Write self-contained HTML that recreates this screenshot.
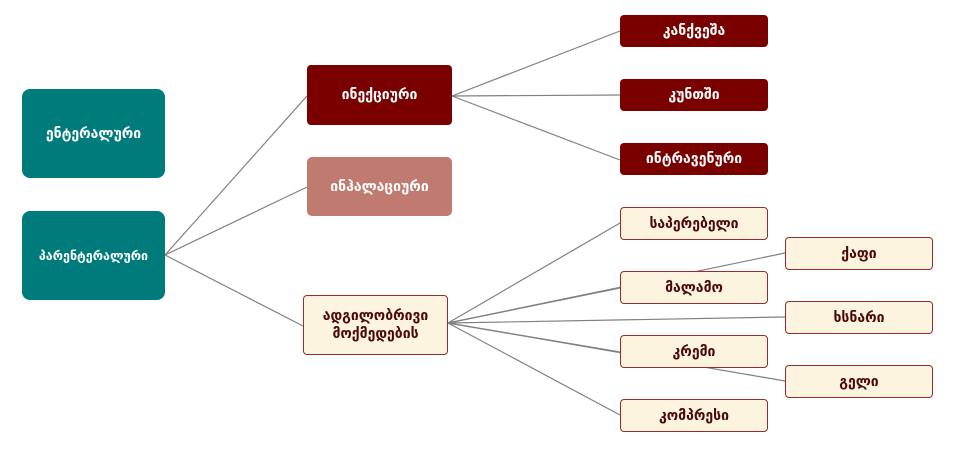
<!DOCTYPE html>
<html><head><meta charset="utf-8"><style>
body{margin:0;width:960px;height:451px;background:#fff;position:relative;overflow:hidden;font-family:"DejaVu Sans","Liberation Sans",sans-serif;}
.b{position:absolute;box-sizing:border-box;display:flex;align-items:center;justify-content:center;text-align:center;font-size:14px;line-height:18px;font-weight:bold;}
.t{background:#007b7b;color:#fff;border-radius:8px;}
.r{background:#7a0000;color:#fff;border-radius:4px;}
.p{background:#c07a70;color:#fff;border-radius:5px;}
.c{background:#fdf4e0;color:#4a0808;border:1.5px solid #9b2a2a;border-radius:4px;}
svg{position:absolute;left:0;top:0}
</style></head><body>
<svg width="960" height="451"><g stroke="#808080" stroke-width="1.2" fill="none">
<line x1="165" y1="255" x2="307" y2="96"/><line x1="165" y1="255" x2="307" y2="187"/><line x1="165" y1="255" x2="303" y2="326"/>
<line x1="452" y1="96" x2="620" y2="31"/><line x1="452" y1="96" x2="620" y2="95"/><line x1="452" y1="96" x2="620" y2="160"/>
<line x1="448" y1="323" x2="620" y2="223"/><line x1="448" y1="323" x2="620" y2="288"/><line x1="448" y1="323" x2="785" y2="253"/>
<line x1="448" y1="323" x2="785" y2="317"/><line x1="448" y1="323" x2="620" y2="352"/><line x1="448" y1="323" x2="785" y2="381"/><line x1="448" y1="323" x2="620" y2="415"/>
</g></svg>
<div class="b t" style="left:22px;top:89px;width:143px;height:89px">ენტერალური</div>
<div class="b t" style="left:22px;top:211px;width:143px;height:89px;font-size:12.5px">პარენტერალური</div>
<div class="b r" style="left:307px;top:65px;width:145px;height:60px">ინექციური</div>
<div class="b p" style="left:307px;top:157px;width:145px;height:59px">ინჰალაციური</div>
<div class="b c" style="left:303px;top:295px;width:145px;height:60px">ადგილობრივი<br>მოქმედების</div>
<div class="b r" style="left:620px;top:15px;width:148px;height:32px">კანქვეშა</div>
<div class="b r" style="left:620px;top:79px;width:148px;height:32px">კუნთში</div>
<div class="b r" style="left:620px;top:143px;width:148px;height:32px">ინტრავენური</div>
<div class="b c" style="left:620px;top:207px;width:148px;height:33px">საპერებელი</div>
<div class="b c" style="left:620px;top:271px;width:148px;height:33px">მალამო</div>
<div class="b c" style="left:620px;top:335px;width:148px;height:33px">კრემი</div>
<div class="b c" style="left:620px;top:399px;width:148px;height:33px">კომპრესი</div>
<div class="b c" style="left:785px;top:237px;width:148px;height:33px">ქაფი</div>
<div class="b c" style="left:785px;top:301px;width:148px;height:33px">ხსნარი</div>
<div class="b c" style="left:785px;top:365px;width:148px;height:33px">გელი</div>
</body></html>
